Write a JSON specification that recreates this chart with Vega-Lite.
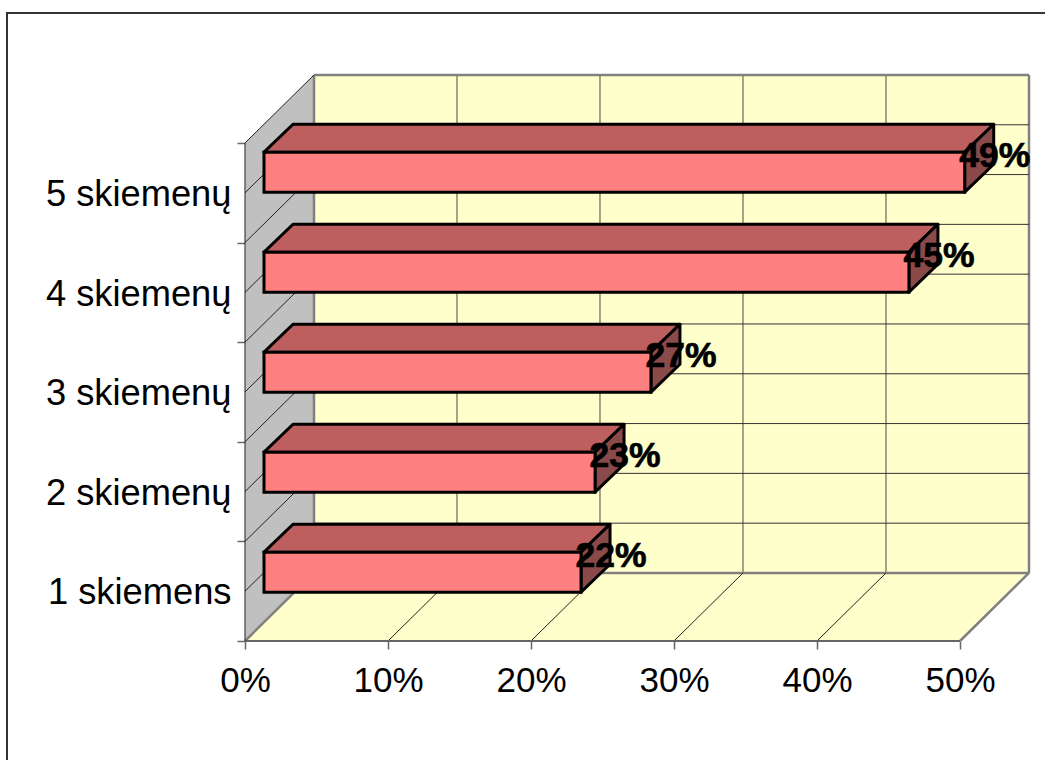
{
"$schema":"https://vega.github.io/schema/vega-lite/v6.json",
"width":1040,"height":749,
"autosize":{"type":"none"},
"padding":{"left":7,"top":13,"right":0,"bottom":0},
"background":"white",
"view":{"stroke":"#333333","strokeWidth":2,"fill":null},
"datasets":{
"bars":[
{"name":"1 skiemens","idx":0,"value":22.17,"label":"22%"},
{"name":"2 skiemenų","idx":1,"value":23.15,"label":"23%"},
{"name":"3 skiemenų","idx":2,"value":27.06,"label":"27%"},
{"name":"4 skiemenų","idx":3,"value":45.1,"label":"45%"},
{"name":"5 skiemenų","idx":4,"value":49.0,"label":"49%"}
],
"pcts":[{"pct":0},{"pct":10},{"pct":20},{"pct":30},{"pct":40},{"pct":50}],
"lvls":[{"lvl":0},{"lvl":0.5},{"lvl":1},{"lvl":1.5},{"lvl":2},{"lvl":2.5},{"lvl":3},{"lvl":3.5},{"lvl":4},{"lvl":4.5},{"lvl":5}],
"depth":[{"d":0},{"d":1}]
},
"encoding":{
"x":{"field":"px","type":"quantitative","title":null,
"scale":{"domain":[-16.643,56.084],"nice":false,"zero":false},
"axis":{"values":[0,10,20,30,40,50],"labelExpr":"datum.value + '%'","offset":-121,"domain":false,"grid":false,"ticks":true,"tickColor":"#666666","tickWidth":1.5,"tickSize":8,"labelFont":"Liberation Sans","labelFontSize":35,"labelColor":"#000000","labelPadding":14,"labelOverlap":false,"labelFlush":false,"labelBound":false}},
"y":{"field":"py","type":"quantitative","title":null,
"scale":{"domain":[-1.2149,6.3052],"nice":false,"zero":false},
"axis":{"values":[0,1,2,3,4,5],"labelExpr":"['1 skiemens','2 skiemenų','3 skiemenų','4 skiemenų','5 skiemenų',''][datum.value]","offset":-238,"domain":false,"grid":false,"ticks":true,"tickColor":"#666666","tickWidth":1.5,"tickSize":8,"labelFont":"Liberation Sans","labelFontSize":36.3,"labelColor":"#000000","labelPadding":6,"labelOffset":-48,"labelLimit":400,"labelOverlap":false,"labelFlush":false,"labelBound":false}}
},
"layer":[
{"data":{"name":"depth"},"transform":[{"filter":"datum.d==1"},{"calculate":"4.825","as":"px"},{"calculate":"54.825","as":"px2"},{"calculate":"0.683","as":"py"},{"calculate":"5.683","as":"py2"}],
"mark":{"type":"rect","fill":"#FFFFCC"},"encoding":{"x2":{"field":"px2"},"y2":{"field":"py2"}}},
{"data":{"name":"depth"},"transform":[{"calculate":"datum.d*4.825","as":"px"},{"calculate":"datum.d*0.683","as":"py"},{"calculate":"5+datum.py","as":"py2"}],
"mark":{"type":"area","orient":"vertical","fill":"#C0C0C0","interpolate":"linear"},"encoding":{"y2":{"field":"py2"}}},
{"data":{"name":"depth"},"transform":[{"calculate":"datum.d*4.825","as":"px"},{"calculate":"50+datum.px","as":"px2"},{"calculate":"datum.d*0.683","as":"py"}],
"mark":{"type":"area","orient":"horizontal","fill":"#FFFFCC","interpolate":"linear"},"encoding":{"x2":{"field":"px2"}}},
{"data":{"name":"pcts"},"transform":[{"calculate":"datum.pct+4.825","as":"px"},{"calculate":"0.683","as":"py"},{"calculate":"5.683","as":"py2"}],
"mark":{"type":"rule"},"encoding":{"y2":{"field":"py2"},
"stroke":{"condition":{"test":"datum.pct==0||datum.pct==50","value":"#808080"},"value":"#4a4a3a"},
"strokeWidth":{"condition":{"test":"datum.pct==0||datum.pct==50","value":2.5},"value":1}}},
{"data":{"name":"lvls"},"transform":[{"calculate":"4.825","as":"px"},{"calculate":"54.825","as":"px2"},{"calculate":"datum.lvl+0.683","as":"py"}],
"mark":{"type":"rule"},"encoding":{"x2":{"field":"px2"},
"stroke":{"condition":{"test":"datum.lvl==0||datum.lvl==5","value":"#808080"},"value":"#333333"},
"strokeWidth":{"condition":{"test":"datum.lvl==0||datum.lvl==5","value":2.5},"value":1}}},
{"data":{"name":"lvls"},"transform":[{"calculate":"0","as":"px"},{"calculate":"4.825","as":"px2"},{"calculate":"datum.lvl","as":"py"},{"calculate":"datum.lvl+0.683","as":"py2"}],
"mark":{"type":"rule","stroke":"#222222","strokeWidth":1},"encoding":{"x2":{"field":"px2"},"y2":{"field":"py2"}}},
{"data":{"name":"pcts"},"transform":[{"calculate":"datum.pct","as":"px"},{"calculate":"datum.pct+4.825","as":"px2"},{"calculate":"0","as":"py"},{"calculate":"0.683","as":"py2"}],
"mark":{"type":"rule"},"encoding":{"x2":{"field":"px2"},"y2":{"field":"py2"},
"stroke":{"condition":{"test":"datum.pct==0||datum.pct==50","value":"#808080"},"value":"#222222"},
"strokeWidth":{"condition":{"test":"datum.pct==0||datum.pct==50","value":2.5},"value":1}}},
{"data":{"name":"depth"},"transform":[{"filter":"datum.d==0"},{"calculate":"0","as":"px"},{"calculate":"50","as":"px2"},{"calculate":"0","as":"py"}],
"mark":{"type":"rule","stroke":"#666666","strokeWidth":2},"encoding":{"x2":{"field":"px2"}}},
{"data":{"name":"depth"},"transform":[{"filter":"datum.d==0"},{"calculate":"0","as":"px"},{"calculate":"0","as":"py"},{"calculate":"5","as":"py2"}],
"mark":{"type":"rule","stroke":"#222222","strokeWidth":1},"encoding":{"y2":{"field":"py2"}}},
{"data":{"name":"bars"},"transform":[{"calculate":"[0,1]","as":"d"},{"flatten":["d"]},
{"calculate":"1.329+datum.d*2.028","as":"px"},{"calculate":"1.329+datum.value+datum.d*2.028","as":"px2"},{"calculate":"(48.8+100*datum.idx+40)/99.6+datum.d*0.281","as":"py"}],
"mark":{"type":"area","orient":"horizontal","interpolate":"linear","fill":"#BD5F5F","stroke":"#000000","strokeWidth":3,"strokeJoin":"round"},
"encoding":{"x2":{"field":"px2"},"detail":{"field":"name"}}},
{"data":{"name":"bars"},"transform":[{"calculate":"[0,1]","as":"d"},{"flatten":["d"]},
{"calculate":"1.329+datum.value+datum.d*2.028","as":"px"},{"calculate":"(48.8+100*datum.idx)/99.6+datum.d*0.281","as":"py"},{"calculate":"datum.py+40/99.6","as":"py2"}],
"mark":{"type":"area","orient":"vertical","interpolate":"linear","fill":"#8A4A4A","stroke":"#000000","strokeWidth":3,"strokeJoin":"round"},
"encoding":{"y2":{"field":"py2"},"detail":{"field":"name"}}},
{"data":{"name":"bars"},"transform":[{"calculate":"1.329","as":"px"},{"calculate":"1.329+datum.value","as":"px2"},{"calculate":"(48.8+100*datum.idx)/99.6","as":"py"},{"calculate":"datum.py+40/99.6","as":"py2"}],
"mark":{"type":"rect","fill":"#FF8080","stroke":"#000000","strokeWidth":3},
"encoding":{"x2":{"field":"px2"},"y2":{"field":"py2"}}},
{"data":{"name":"bars"},"transform":[{"calculate":"1.329+datum.value+30/14.3","as":"px"},{"calculate":"(49.2+100*datum.idx+36)/99.6","as":"py"}],
"mark":{"type":"text","font":"Liberation Sans","fontWeight":"bold","fontSize":35.5,"align":"center","baseline":"middle","fill":"#000000","stroke":"#000000","strokeWidth":0.7},
"encoding":{"text":{"field":"label"}}}
]
}
